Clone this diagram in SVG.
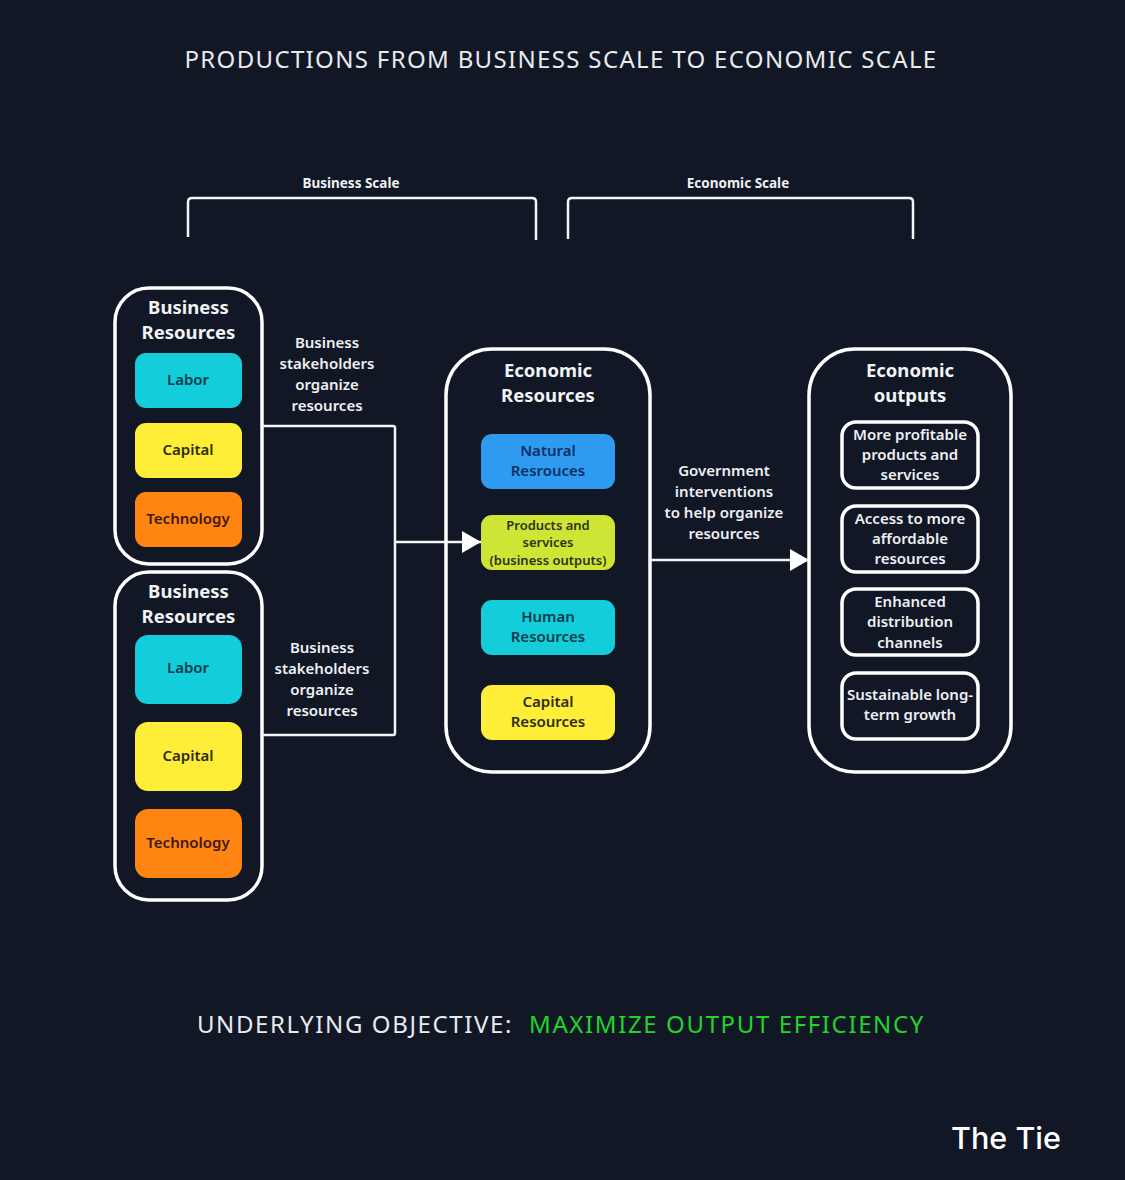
<svg xmlns="http://www.w3.org/2000/svg" width="1125" height="1180" viewBox="0 0 1125 1180">
<style>
text{font-family:"Noto Sans","Open Sans",sans-serif;text-anchor:middle}
.t{font-size:24px;letter-spacing:1.34px;fill:#e8eaee}
.u{font-size:24px;letter-spacing:1.62px;fill:#e8eaee}
.h{font-size:18.500px;font-weight:700;fill:#f2f3f5}
.l{font-size:15px;font-weight:600;fill:#eeeff2}
.s{font-size:13.500px;font-weight:700;fill:#eeeff2}
.c{font-size:15px;font-weight:600}
.o{fill:#111725;stroke:#fff;stroke-width:3.500}
.w{fill:none;stroke:#f4f5f7;stroke-width:2.500;stroke-linejoin:round}
.teal{fill:#13cddb}.yel{fill:#ffee37}.org{fill:#ff8512}.blu{fill:#2f9bf0}.lim{fill:#cfe535}
.dt{fill:#0a3c4a}.dy{fill:#2e2d1b}.do{fill:#40190b}.db{fill:#0c2f68}.dl{fill:#2c3312}
</style>
<defs><marker id="a" markerUnits="userSpaceOnUse" markerWidth="20" markerHeight="22" refX="19" refY="11" orient="auto"><path d="M0 0L19 11L0 22Z" fill="#fff"/></marker></defs>
<rect width="1125" height="1180" fill="#111725"/>
<text class="t" x="561" y="68">PRODUCTIONS FROM BUSINESS SCALE TO ECONOMIC SCALE</text>
<g id="scale-labels">
<text class="s" x="351" y="188">Business Scale</text>
<text class="s" x="738" y="188">Economic Scale</text>
</g>
<g id="business-resources-1">
<rect class="o" x="115" y="288" width="147" height="276" rx="34"/>
<text class="h"><tspan x="188.500" y="314">Business</tspan><tspan x="188.500" y="339">Resources</tspan></text>
<rect class="teal" x="135" y="353" width="107" height="55" rx="11"/><text class="c dt" x="188" y="385">Labor</text>
<rect class="yel" x="135" y="423" width="107" height="55" rx="11"/><text class="c dy" x="188" y="455">Capital</text>
<rect class="org" x="135" y="492" width="107" height="55" rx="11"/><text class="c do" x="188" y="524">Technology</text>
</g>
<g id="business-resources-2">
<rect class="o" x="115" y="572" width="147" height="328" rx="34"/>
<text class="h"><tspan x="188.500" y="598">Business</tspan><tspan x="188.500" y="623">Resources</tspan></text>
<rect class="teal" x="135" y="635" width="107" height="69" rx="13"/><text class="c dt" x="188" y="673">Labor</text>
<rect class="yel" x="135" y="722" width="107" height="69" rx="13"/><text class="c dy" x="188" y="761">Capital</text>
<rect class="org" x="135" y="809" width="107" height="69" rx="13"/><text class="c do" x="188" y="848">Technology</text>
</g>
<g id="label-stakeholders-1"><text class="l"><tspan x="327" y="348">Business</tspan><tspan x="327" y="369">stakeholders</tspan><tspan x="327" y="390">organize</tspan><tspan x="327" y="411">resources</tspan></text></g>
<g id="label-stakeholders-2"><text class="l"><tspan x="322" y="652.500">Business</tspan><tspan x="322" y="673.500">stakeholders</tspan><tspan x="322" y="694.500">organize</tspan><tspan x="322" y="715.500">resources</tspan></text></g>
<g id="economic-resources">
<rect class="o" x="446" y="349" width="204" height="423" rx="46"/>
<text class="h"><tspan x="548" y="377">Economic</tspan><tspan x="548" y="402">Resources</tspan></text>
<rect class="blu" x="481" y="434" width="134" height="55" rx="11"/><text class="c db"><tspan x="548" y="456">Natural</tspan><tspan x="548" y="476">Resrouces</tspan></text>
<rect class="lim" x="481" y="515" width="134" height="55" rx="11"/><text style="font-size:13px;font-weight:600" class="dl"><tspan x="548" y="530">Products and</tspan><tspan x="548" y="547">services</tspan><tspan x="548" y="565">(business outputs)</tspan></text>
<rect class="teal" x="481" y="600" width="134" height="55" rx="11"/><text class="c dt"><tspan x="548" y="622">Human</tspan><tspan x="548" y="642">Resources</tspan></text>
<rect class="yel" x="481" y="685" width="134" height="55" rx="11"/><text class="c dy"><tspan x="548" y="707">Capital</tspan><tspan x="548" y="727">Resources</tspan></text>
</g>
<g id="label-government"><text class="l"><tspan x="724" y="475.500">Government</tspan><tspan x="724" y="496.500">interventions</tspan><tspan x="724" y="517.500">to help organize</tspan><tspan x="724" y="538.500">resources</tspan></text></g>
<g id="economic-outputs">
<rect class="o" x="809" y="349" width="202" height="423" rx="46"/>
<text class="h"><tspan x="910" y="377">Economic</tspan><tspan x="910" y="402">outputs</tspan></text>
<rect class="o" x="842" y="422" width="136" height="66" rx="14"/><text class="l"><tspan x="910" y="440">More profitable</tspan><tspan x="910" y="460">products and</tspan><tspan x="910" y="480">services</tspan></text>
<rect class="o" x="842" y="506" width="136" height="66" rx="14"/><text class="l"><tspan x="910" y="524">Access to more</tspan><tspan x="910" y="544">affordable</tspan><tspan x="910" y="564">resources</tspan></text>
<rect class="o" x="842" y="589" width="136" height="66" rx="14"/><text class="l"><tspan x="910" y="607">Enhanced</tspan><tspan x="910" y="627">distribution</tspan><tspan x="910" y="648">channels</tspan></text>
<rect class="o" x="842" y="673" width="136" height="66" rx="14"/><text class="l"><tspan x="910" y="700">Sustainable long-</tspan><tspan x="910" y="720">term growth</tspan></text>
</g>
<g id="objective">
<text class="u" x="355" y="1033">UNDERLYING OBJECTIVE:</text>
<text class="u" x="727" y="1033" style="fill:#22d42a">MAXIMIZE OUTPUT EFFICIENCY</text>
</g>
<g id="logo"><text x="1006" y="1149" style="font-family:Inter,sans-serif;font-size:30.500px;font-weight:500;fill:#fff">The Tie</text></g>
<g id="connectors">
<path class="w" d="M188 237V202Q188 198 192 198H532Q536 198 536 202V240"/>
<path class="w" d="M568 239V202Q568 198 572 198H909Q913 198 913 202V239"/>
<path class="w" d="M262 426H393Q395 426 395 428V733Q395 735 393 735H262"/>
<path class="w" d="M395 542H481" marker-end="url(#a)"/>
<path class="w" d="M651 560H809" marker-end="url(#a)"/>
</g>
</svg>
